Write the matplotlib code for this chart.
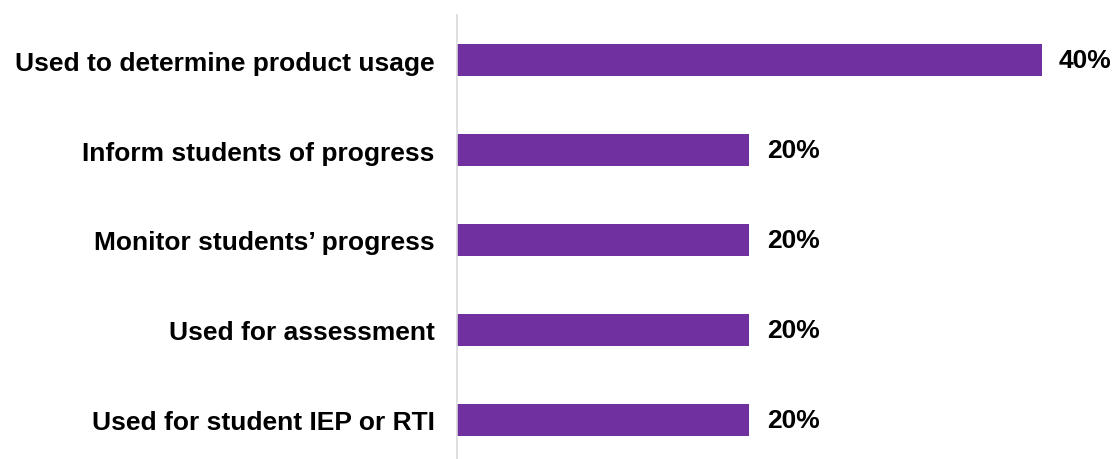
import matplotlib
matplotlib.use("Agg")
import matplotlib.pyplot as plt

categories = ["Used to determine product usage", "Inform students of progress",
              "Monitor students\u2019 progress", "Used for assessment",
              "Used for student IEP or RTI"]
values = [40, 20, 20, 20, 20]

plt.rcParams["font.family"] = ["Liberation Sans", "DejaVu Sans"]

fig = plt.figure(figsize=(11.16, 4.6), dpi=100)
ax = fig.add_axes([457 / 1116, 0.0, (1100 - 457) / 1116, 444 / 460])

ypos = list(range(len(categories)))
ax.barh(ypos, values, height=0.36, color="#7030A0")
ax.set_ylim(len(categories) - 0.5 - 6 / 90, -0.5)
ax.set_xlim(0, 44)

for y, v in zip(ypos, values):
    ax.text(v + 1.2, y, f"{v}%", va="center", ha="left",
            fontsize=19, fontweight="bold", color="black")

ax.set_yticks(ypos)
ax.set_yticklabels(categories, fontsize=19, fontweight="bold")
ax.tick_params(axis="y", length=0, pad=16)
ax.set_xticks([])
for s in ["top", "right", "bottom"]:
    ax.spines[s].set_visible(False)
ax.spines["left"].set_color("#d9d9d9")
ax.spines["left"].set_linewidth(1.2)

fig.savefig("out.png", dpi=100)
